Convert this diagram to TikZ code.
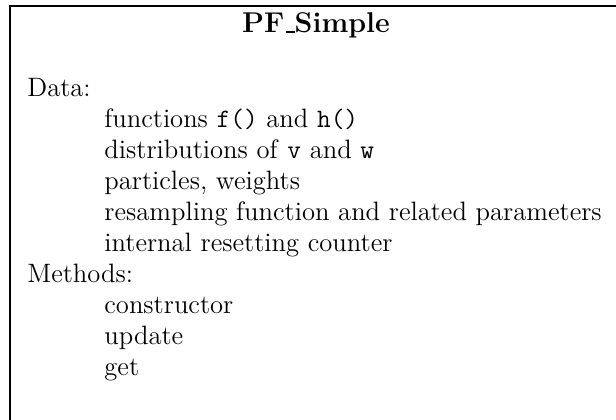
\documentclass[tikz,border=0pt]{standalone}
\newcommand{\usc}{\kern.06em\rule[-0.02em]{.3em}{.07em}}
\tikzset{
  bodytext/.style={anchor=base west, inner sep=0pt, font=\fontsize{13.3}{15}\selectfont},
  titletext/.style={anchor=base, inner sep=0pt, font=\fontsize{14.3}{17}\selectfont\bfseries},
  frame/.style={draw=black, line width=1.25pt}
}
\begin{document}
\begin{tikzpicture}[x=0.5pt,y=-0.5pt]
\useasboundingbox (0,0) rectangle (616,419);
\begin{scope}
\clip (0,0) rectangle (616,419);
\draw[frame] (10,6) rectangle (700,600);
\end{scope}
\node[titletext] (title) at (316,32) {PF\usc Simple};
\node[bodytext] (data) at (27,96) {Data:};
\node[bodytext] (d1) at (104,127.1) {functions \texttt{f()} and \texttt{h()}};
\node[bodytext] (d2) at (104,158.2) {distributions of \texttt{v} and \texttt{w}};
\node[bodytext] (d3) at (104,189.3) {particles, weights};
\node[bodytext] (d4) at (104,220.4) {resampling function and related parameters};
\node[bodytext] (d5) at (104,251.5) {internal resetting counter};
\node[bodytext] (methods) at (27,282.6) {Methods:};
\node[bodytext] (m1) at (104,313.7) {constructor};
\node[bodytext] (m2) at (104,344.8) {update};
\node[bodytext] (m3) at (104,375.9) {get};
\end{tikzpicture}
\end{document}
